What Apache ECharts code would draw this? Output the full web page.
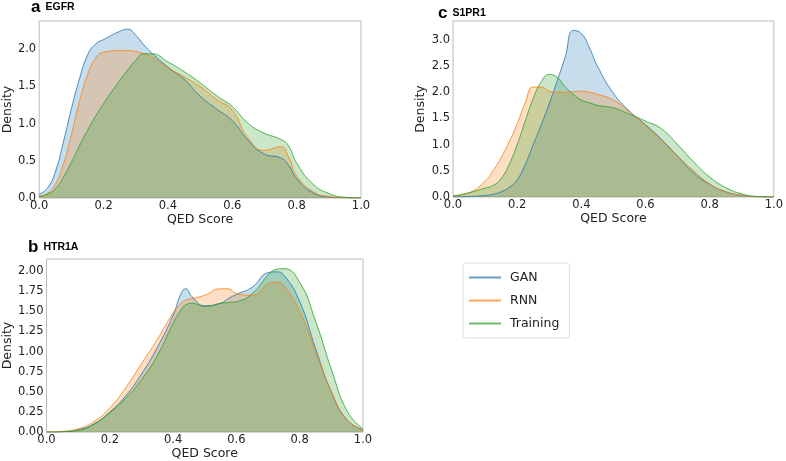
<!DOCTYPE html>
<html>
<head>
<meta charset="utf-8">
<script src="https://cdn.jsdelivr.net/npm/echarts@6.0.0/dist/echarts.min.js"></script>
<style>
  html, body { margin: 0; padding: 0; background: #fff; }
  #main { width: 786px; height: 461px; }
</style>
</head>
<body>
<div id="main"></div>
<script>
// panel a - EGFR
var xA = [0, 0.025, 0.05, 0.075, 0.1, 0.125, 0.15, 0.175, 0.2, 0.25, 0.275, 0.3, 0.325, 0.35, 0.4, 0.45, 0.5, 0.55, 0.6, 0.65, 0.7, 0.75, 0.775, 0.8, 0.85, 0.9, 0.95, 1.0];
var ganA = [0.05, 0.13, 0.35, 0.75, 1.2, 1.6, 1.92, 2.07, 2.13, 2.24, 2.27, 2.19, 2.06, 1.95, 1.76, 1.6, 1.37, 1.2, 1.04, 0.77, 0.59, 0.54, 0.44, 0.26, 0.07, 0.015, 0.003, 0];
var rnnA = [0.02, 0.06, 0.18, 0.45, 0.85, 1.3, 1.65, 1.88, 1.96, 1.98, 1.98, 1.97, 1.94, 1.9, 1.75, 1.63, 1.5, 1.33, 1.18, 0.8, 0.64, 0.69, 0.55, 0.3, 0.09, 0.02, 0.005, 0];
var trainA = [0.02, 0.05, 0.12, 0.28, 0.48, 0.7, 0.91, 1.1, 1.27, 1.58, 1.72, 1.85, 1.94, 1.94, 1.83, 1.7, 1.55, 1.38, 1.23, 1.0, 0.87, 0.79, 0.7, 0.47, 0.19, 0.06, 0.01, 0];

// panel c - S1PR1
var xC = [0, 0.05, 0.1, 0.125, 0.15, 0.175, 0.2, 0.225, 0.25, 0.275, 0.3, 0.325, 0.35, 0.375, 0.4, 0.425, 0.45, 0.5, 0.55, 0.6, 0.65, 0.7, 0.75, 0.8, 0.85, 0.9, 0.95, 1.0];
var ganC = [0, 0.01, 0.03, 0.05, 0.1, 0.18, 0.33, 0.62, 1.0, 1.38, 1.78, 2.22, 2.68, 3.18, 3.12, 2.85, 2.5, 1.98, 1.64, 1.38, 1.1, 0.78, 0.46, 0.24, 0.1, 0.03, 0.005, 0];
var rnnC = [0.02, 0.08, 0.3, 0.5, 0.75, 1.05, 1.4, 1.8, 2.1, 2.1, 2.02, 2.0, 2.0, 2.01, 2.02, 2.0, 1.96, 1.85, 1.62, 1.36, 1.08, 0.78, 0.5, 0.25, 0.1, 0.03, 0.005, 0];
var trainC = [0.02, 0.08, 0.17, 0.22, 0.35, 0.62, 1.0, 1.45, 1.88, 2.2, 2.34, 2.28, 2.1, 1.96, 1.85, 1.8, 1.75, 1.7, 1.58, 1.45, 1.3, 1.0, 0.67, 0.38, 0.18, 0.06, 0.01, 0];

// panel b - HTR1A
var xB = [0, 0.05, 0.1, 0.15, 0.2, 0.25, 0.3, 0.35, 0.4, 0.425, 0.44, 0.46, 0.5, 0.55, 0.575, 0.6, 0.65, 0.7, 0.725, 0.75, 0.8, 0.85, 0.9, 0.95, 1.0];
var ganB = [0, 0.005, 0.03, 0.1, 0.25, 0.45, 0.72, 1.05, 1.45, 1.72, 1.78, 1.68, 1.57, 1.6, 1.66, 1.71, 1.8, 1.98, 1.99, 1.95, 1.62, 1.04, 0.5, 0.15, 0.03];
var rnnB = [0, 0.01, 0.04, 0.13, 0.3, 0.55, 0.85, 1.15, 1.48, 1.6, 1.64, 1.66, 1.7, 1.78, 1.78, 1.72, 1.7, 1.84, 1.86, 1.82, 1.5, 1.0, 0.5, 0.15, 0.03];
var trainB = [0, 0.005, 0.02, 0.1, 0.24, 0.42, 0.65, 0.95, 1.35, 1.52, 1.58, 1.6, 1.56, 1.6, 1.61, 1.62, 1.72, 1.95, 2.02, 2.03, 1.86, 1.38, 0.78, 0.26, 0.04];

var names = ['GAN', 'RNN', 'Training'];
var colors = ['#1f77b4', '#ff7f0e', '#2ca02c'];
var xTicks = 0.2;

var chart = echarts.init(document.getElementById('main'));

function kde(k, xs, ys, gi) {
  var d = [];
  for (var i = 0; i < xs.length; i++) d.push([xs[i], ys[i]]);
  return {
    name: names[k],
    type: 'line',
    xAxisIndex: gi,
    yAxisIndex: gi,
    data: d,
    smooth: 0.5,
    symbol: 'none',
    silent: true,
    sampling: null,
    lineStyle: { color: colors[k], width: 1, opacity: 0.8 },
    itemStyle: { color: colors[k] },
    areaStyle: { color: colors[k], opacity: 0.25 }
  };
}

var tickFont = { color: '#222', fontSize: 11.5, fontFamily: 'DejaVu Sans' };
var nameFont = { color: '#222', fontSize: 12.5, fontFamily: 'DejaVu Sans' };

function xAxis(gi, gap) {
  return {
    gridIndex: gi, type: 'value', min: 0, max: 1, interval: xTicks,
    name: 'QED Score', nameLocation: 'middle', nameGap: gap, nameTextStyle: nameFont,
    axisLine: { show: false }, axisTick: { show: false }, splitLine: { show: false },
    axisLabel: Object.assign({ margin: 2, formatter: function (v) { return v.toFixed(1); } }, tickFont)
  };
}
function yAxis(gi, max, step, dec, gap) {
  return {
    gridIndex: gi, type: 'value', min: 0, max: max, interval: step,
    name: 'Density', nameLocation: 'middle', nameGap: gap, nameTextStyle: nameFont,
    axisLine: { show: false }, axisTick: { show: false }, splitLine: { show: false },
    axisLabel: Object.assign({ margin: 3, showMaxLabel: false, formatter: function (v) { return v.toFixed(dec); } }, tickFont)
  };
}

function head(letter, label, left, top) {
  return {
    text: '{l|' + letter + '} {t|' + label + '}', left: left, top: top, padding: 0,
    textStyle: {
      rich: {
        l: { fontSize: 17, fontWeight: 'bold', fontFamily: 'Liberation Sans', color: '#000' },
        t: { fontSize: 10.5, fontWeight: 'bold', fontFamily: 'Liberation Sans', color: '#000' }
      }
    }
  };
}

var option = {
  animation: false,
  backgroundColor: '#fff',
  title: [
    head('a', 'EGFR', 31, -2),
    head('c', 'S1PR1', 438, 4),
    head('b', 'HTR1A', 28, 238)
  ],
  legend: {
    data: names,
    orient: 'vertical',
    left: 463, top: 263,
    padding: [7, 10, 7, 6],
    itemGap: 8,
    itemWidth: 32, itemHeight: 2,
    icon: 'rect',
    borderColor: '#dddddd', borderWidth: 1, borderRadius: 3,
    textStyle: { fontSize: 12.5, fontFamily: 'DejaVu Sans', color: '#222', lineHeight: 15, padding: [0, 0, 0, 4] },
    itemStyle: { opacity: 0.7 }
  },
  grid: [
    { left: 36, top: 21, width: 325, height: 177, show: true, borderColor: '#bbbbbb', borderWidth: 1 },
    { left: 453, top: 21, width: 324, height: 176, show: true, borderColor: '#bbbbbb', borderWidth: 1 },
    { left: 39, top: 259, width: 324, height: 176, show: true, borderColor: '#bbbbbb', borderWidth: 1 }
  ],
  xAxis: [xAxis(0, 11), xAxis(1, 11), xAxis(2, 12)],
  yAxis: [yAxis(0, 2.38, 0.5, 1, 24), yAxis(1, 3.36, 0.5, 1, 26), yAxis(2, 2.15, 0.25, 2, 31)],
  series: [
    kde(0, xA, ganA, 0), kde(1, xA, rnnA, 0), kde(2, xA, trainA, 0),
    kde(0, xC, ganC, 1), kde(1, xC, rnnC, 1), kde(2, xC, trainC, 1),
    kde(0, xB, ganB, 2), kde(1, xB, rnnB, 2), kde(2, xB, trainB, 2)
  ]
};

chart.setOption(option);
</script>
</body>
</html>
